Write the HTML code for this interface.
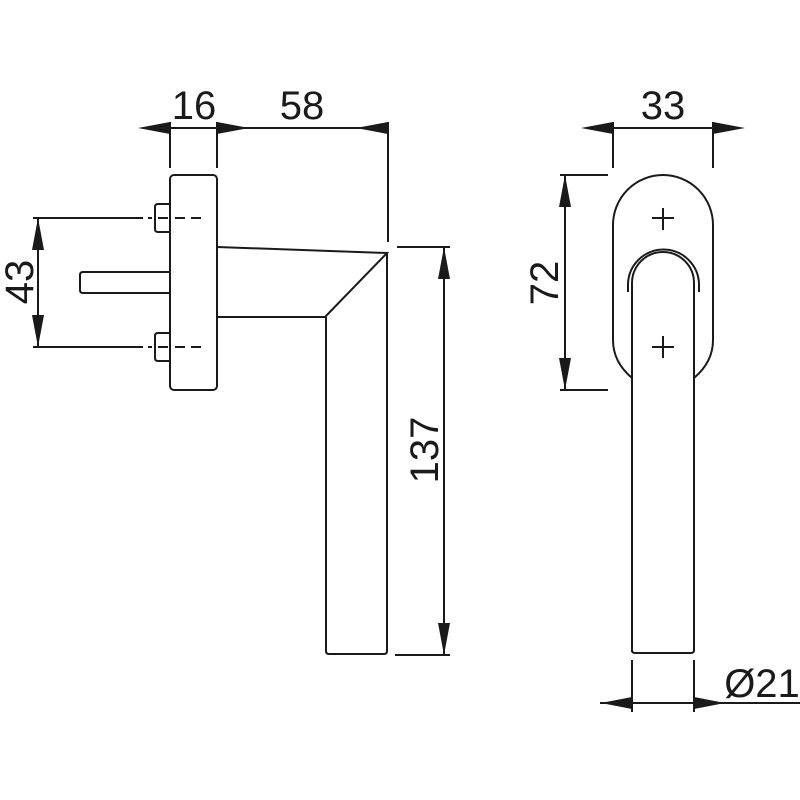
<!DOCTYPE html>
<html><head><meta charset="utf-8"><style>html,body{margin:0;padding:0;background:#fff}svg{display:block}</style></head>
<body>
<svg width="800" height="800" viewBox="0 0 800 800" xmlns="http://www.w3.org/2000/svg">
<g fill="none" stroke="#1a1a1a" stroke-width="2">
<!-- top dims left -->
<line x1="170" y1="122" x2="170" y2="168"/>
<line x1="217" y1="122" x2="217" y2="168"/>
<line x1="388" y1="122" x2="388" y2="242"/>
<line x1="170" y1="128" x2="217" y2="128"/>
<line x1="217" y1="128" x2="388" y2="128"/>
<!-- rosette left -->
<rect x="170" y="175" width="47" height="215" rx="4"/>
<!-- screws -->
<path d="M170 204 h-12 q-3 0 -3 3 v22 q0 3 3 3 h12"/>
<path d="M170 333 h-12 q-3 0 -3 3 v22 q0 3 3 3 h12"/>
<path d="M148 218 h4 M158 218 h10 M175 218 h10 M191 218 h10" />
<path d="M148 347 h4 M158 347 h10 M175 347 h10 M191 347 h10" />
<line x1="33" y1="218" x2="143" y2="218"/>
<line x1="33" y1="347" x2="143" y2="347"/>
<line x1="38" y1="218" x2="38" y2="347"/>
<!-- spindle -->
<path d="M170 272 h-87 q-3 0 -3 3 v15 q0 3 3 3 h87"/>
<!-- handle -->
<path d="M217 247 L387 253 L325 317 L217 317"/>
<path d="M387 253 V651 q0 3 -3 3 H329 q-3 0 -3 -3 V317"/>
<!-- 137 dim -->
<line x1="397" y1="247" x2="450" y2="247"/>
<line x1="395" y1="655" x2="450" y2="655"/>
<line x1="444" y1="247" x2="444" y2="655"/>
<!-- right view -->
<line x1="613" y1="122" x2="613" y2="168"/>
<line x1="713" y1="122" x2="713" y2="168"/>
<line x1="613" y1="128" x2="713" y2="128"/>
<line x1="560" y1="175" x2="608" y2="175"/>
<line x1="560" y1="390" x2="608" y2="390"/>
<line x1="565" y1="175" x2="565" y2="390"/>
<path d="M632 378 Q613 362 613 340 V225 A50 50 0 0 1 713 225 V340 Q713 362 694 378"/>
<path d="M628 292 V285 A35.5 35.5 0 0 1 699 285 V292"/>
<path d="M632 652 V283 A31 31 0 0 1 694 283 V650 q0 3 -3 3 H635 q-3 0 -3 -3"/>
<path d="M663 208 v22 M652 218 h22 M663 336 v22 M652 347 h22"/>
<line x1="632" y1="660" x2="632" y2="712"/>
<line x1="694" y1="660" x2="694" y2="712"/>
<line x1="600" y1="703" x2="800" y2="703"/>
</g>
<g fill="#1a1a1a">
<polygon points="138,128 170,122 170,134"/>
<polygon points="249,128 217,122 217,134"/>
<polygon points="356,128 388,122 388,134"/>
<polygon points="38,218 32,250 44,250"/>
<polygon points="38,347 32,315 44,315"/>
<polygon points="444,247 438,279 450,279"/>
<polygon points="444,655 438,623 450,623"/>
<polygon points="581,128 613,122 613,134"/>
<polygon points="745,128 713,122 713,134"/>
<polygon points="565,175 559,207 571,207"/>
<polygon points="565,390 559,358 571,358"/>
<polygon points="601,703 632,697 632,709"/>
<polygon points="725,703 694,697 694,709"/>
</g>
<g font-family="Liberation Sans, sans-serif" font-size="40" fill="#1a1a1a" text-anchor="middle">
<text x="194" y="119">16</text>
<text x="302" y="119">58</text>
<text x="663" y="119">33</text>
<text x="762" y="697">Ø21</text>
<text transform="translate(33,282) rotate(-90)">43</text>
<text transform="translate(438,450) rotate(-90)">137</text>
<text transform="translate(558,283) rotate(-90)">72</text>
</g>
</svg>
</body></html>
